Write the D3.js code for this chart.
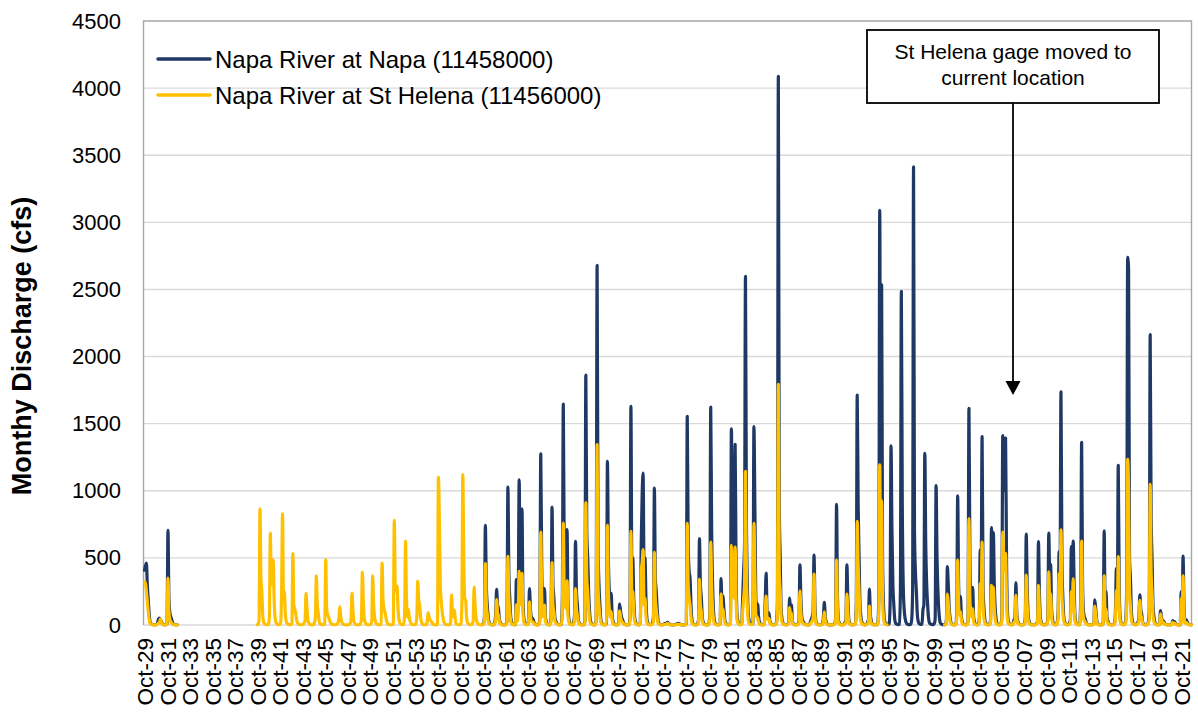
<!DOCTYPE html>
<html>
<head>
<meta charset="utf-8">
<script src="https://cdn.jsdelivr.net/npm/d3@7/dist/d3.min.js"></script>
<style>
  body { margin: 0; background: #fff; }
  svg text { font-family: "Liberation Sans", Arial, sans-serif; fill: #000; }
</style>
</head>
<body>
<svg id="chart" width="1198" height="713"></svg>
<script>
// monthly discharge by water year (Oct..Sep)
const firstWaterYear = 1930

const napaMonthly = [
  [408, 440, 462, 300, 185, 80, 20, 10, 5, 3, 2, 2],        // 1930
  [3, 5, 20, 45, 52, 40, 25, 10, 5, 3, 2, 2],
  [10, 705, 200, 90, 60, 40, 15, 8, 4, 3, 2, 2],
  null, null, null, null, null, null, null,                   // 1933-1939
  null, null, null, null, null, null, null, null, null, null, // 1940-1949
  null, null, null, null, null, null, null, null, null, null, // 1950-1959
  [5, 10, 60, 742, 300, 150, 60, 20, 8, 4, 3, 2],             // 1960
  [3, 20, 80, 265, 150, 120, 40, 15, 6, 3, 2, 2],
  [2, 5, 30, 1027, 400, 200, 60, 20, 8, 4, 3, 2],
  [339, 80, 200, 1081, 400, 300, 866, 200, 50, 15, 8, 5],
  [5, 40, 272, 120, 60, 50, 40, 15, 6, 3, 2, 2],
  [5, 60, 1275, 450, 150, 120, 272, 60, 20, 8, 4, 3],
  [3, 60, 879, 300, 200, 60, 30, 12, 6, 3, 2, 2],
  [5, 200, 1646, 500, 300, 250, 710, 150, 40, 12, 6, 4],
  [3, 20, 80, 624, 250, 150, 40, 15, 6, 3, 2, 2],
  [3, 30, 1861, 700, 500, 250, 100, 30, 12, 5, 3, 2],
  [3, 40, 2680, 600, 300, 150, 40, 15, 6, 3, 2, 2],           // 1970
  [10, 1220, 500, 250, 150, 235, 80, 25, 10, 5, 3, 2],
  [3, 20, 156, 100, 60, 40, 20, 8, 4, 2, 2, 1],
  [5, 60, 1629, 400, 500, 200, 60, 20, 8, 4, 3, 2],
  [20, 619, 978, 1131, 400, 500, 200, 50, 15, 6, 4, 3],
  [5, 15, 60, 1020, 350, 250, 120, 30, 10, 5, 3, 2],
  [3, 5, 10, 10, 15, 20, 12, 6, 3, 2, 1, 1],
  [2, 3, 5, 8, 10, 12, 8, 4, 2, 1, 1, 1],
  [3, 10, 1555, 600, 400, 350, 150, 40, 12, 5, 3, 2],
  [3, 10, 40, 643, 300, 200, 60, 20, 8, 4, 2, 2],
  [3, 10, 80, 1623, 700, 300, 100, 30, 10, 5, 3, 2],          // 1980
  [3, 8, 346, 150, 216, 120, 40, 15, 6, 3, 2, 2],
  [20, 1462, 800, 700, 400, 1345, 400, 80, 25, 10, 5, 3],
  [10, 200, 400, 600, 2597, 800, 300, 80, 30, 12, 6, 4],
  [10, 1478, 900, 200, 150, 155, 60, 20, 8, 4, 3, 2],
  [5, 170, 387, 100, 80, 90, 30, 10, 5, 3, 2, 2],
  [5, 20, 150, 4088, 900, 500, 120, 40, 15, 6, 4, 3],
  [3, 8, 20, 201, 120, 150, 30, 10, 5, 3, 2, 2],
  [10, 30, 448, 200, 60, 30, 20, 8, 4, 2, 2, 1],
  [3, 20, 40, 60, 100, 520, 150, 30, 10, 5, 3, 2],
  [3, 5, 8, 60, 169, 60, 20, 8, 4, 2, 1, 1],                  // 1990
  [2, 3, 5, 10, 50, 899, 200, 40, 15, 6, 3, 2],
  [3, 5, 20, 40, 449, 200, 50, 15, 6, 3, 2, 2],
  [5, 10, 150, 1713, 900, 500, 150, 60, 20, 8, 4, 3],
  [3, 5, 20, 40, 267, 80, 30, 10, 5, 3, 2, 2],
  [3, 20, 200, 3090, 600, 2534, 500, 150, 40, 15, 8, 5],
  [3, 10, 150, 1334, 700, 300, 150, 40, 12, 6, 4, 3],
  [5, 250, 2486, 900, 300, 120, 50, 20, 8, 4, 3, 2],
  [5, 40, 250, 3413, 700, 400, 250, 80, 25, 10, 6, 4],
  [5, 112, 150, 1278, 600, 300, 150, 50, 15, 8, 5, 3],
  [4, 10, 40, 1039, 500, 250, 100, 30, 10, 5, 3, 2],          // 2000
  [3, 5, 40, 435, 300, 120, 50, 15, 6, 3, 2, 2],
  [5, 100, 963, 300, 150, 211, 60, 20, 8, 4, 3, 2],
  [5, 30, 1615, 500, 200, 150, 281, 60, 20, 8, 4, 3],
  [5, 40, 560, 400, 1404, 300, 120, 40, 12, 6, 4, 3],
  [5, 40, 725, 300, 688, 300, 120, 40, 12, 6, 4, 3],
  [5, 60, 1411, 1100, 1000, 1393, 500, 100, 25, 10, 6, 4],
  [3, 10, 40, 60, 316, 80, 30, 10, 5, 3, 2, 2],
  [3, 8, 60, 677, 300, 80, 30, 10, 5, 3, 2, 2],
  [2, 4, 10, 30, 622, 250, 60, 20, 6, 3, 2, 2],
  [5, 10, 60, 684, 400, 451, 120, 40, 12, 5, 3, 2],           // 2010
  [20, 100, 546, 350, 1737, 500, 200, 60, 20, 8, 5, 3],
  [5, 15, 40, 584, 200, 626, 300, 60, 15, 6, 4, 3],
  [5, 200, 1361, 300, 100, 60, 40, 15, 6, 3, 2, 2],
  [2, 3, 5, 10, 188, 120, 40, 10, 5, 2, 2, 1],
  [3, 20, 702, 150, 250, 60, 30, 10, 5, 3, 2, 2],
  [3, 10, 100, 421, 200, 1190, 300, 60, 15, 6, 4, 3],
  [10, 40, 300, 2739, 2651, 500, 346, 100, 30, 12, 6, 4],
  [3, 10, 20, 60, 225, 120, 80, 20, 8, 4, 2, 2],
  [5, 20, 100, 2163, 800, 500, 150, 60, 20, 8, 5, 3],
  [3, 5, 108, 60, 20, 30, 20, 8, 4, 2, 2, 1],                 // 2020
  [2, 3, 5, 33, 20, 25, 10, 5, 3, 2, 1, 1],
  [251, 40, 514, 150, 30, 40, 30, 15, 6, 3, 2, 2]
]

const stHelenaMonthly = [
  [322, 310, 250, 175, 100, 40, 12, 6, 3, 2, 1, 1],           // 1930
  [1, 2, 8, 15, 20, 45, 15, 5, 2, 1, 1, 1],
  [5, 349, 100, 40, 25, 15, 6, 3, 2, 1, 1, 1],
  null, null, null, null, null, null, null,                   // 1933-1939
  [3, 4, 40, 866, 350, 250, 60, 20, 8, 4, 2, 2],              // 1940
  [3, 60, 685, 300, 350, 483, 200, 60, 20, 8, 4, 3],
  [2, 20, 250, 829, 180, 247, 80, 25, 10, 5, 3, 2],
  [2, 10, 532, 150, 120, 90, 40, 15, 6, 3, 2, 2],
  [2, 5, 15, 30, 235, 120, 40, 15, 6, 3, 2, 2],
  [2, 20, 60, 367, 150, 90, 30, 12, 5, 3, 2, 2],
  [5, 487, 120, 80, 60, 40, 20, 10, 5, 3, 2, 2],
  [2, 5, 15, 50, 137, 60, 25, 10, 4, 2, 2, 1],
  [1, 2, 5, 10, 50, 237, 110, 30, 10, 4, 2, 2],
  [2, 3, 10, 40, 395, 180, 50, 20, 8, 3, 2, 2],
  [2, 5, 30, 367, 150, 60, 25, 10, 5, 3, 2, 2],               // 1950
  [5, 462, 187, 120, 100, 60, 25, 10, 5, 3, 2, 2],
  [3, 10, 780, 300, 250, 290, 120, 40, 15, 6, 3, 2],
  [3, 80, 625, 200, 60, 117, 60, 25, 10, 4, 2, 2],
  [2, 10, 60, 325, 187, 150, 60, 20, 8, 3, 2, 2],
  [2, 20, 92, 60, 40, 30, 20, 8, 4, 2, 1, 1],
  [10, 1100, 787, 300, 180, 100, 50, 20, 8, 4, 2, 2],
  [2, 3, 20, 225, 80, 60, 112, 40, 10, 4, 2, 2],
  [3, 10, 150, 1120, 487, 200, 180, 60, 20, 8, 4, 3],
  [2, 4, 30, 282, 150, 60, 25, 10, 4, 2, 1, 1],
  [2, 4, 30, 458, 180, 80, 30, 10, 4, 2, 1, 1],               // 1960
  [1, 10, 40, 190, 90, 70, 20, 8, 3, 1, 1, 1],
  [1, 2, 15, 512, 200, 100, 30, 10, 4, 2, 1, 1],
  [150, 30, 100, 400, 200, 150, 384, 100, 25, 8, 4, 2],
  [2, 20, 173, 70, 30, 25, 20, 8, 3, 1, 1, 1],
  [2, 30, 693, 220, 80, 60, 148, 30, 10, 4, 2, 1],
  [1, 30, 465, 150, 100, 30, 15, 6, 3, 1, 1, 1],
  [2, 100, 760, 250, 150, 120, 329, 70, 20, 6, 3, 2],
  [1, 8, 40, 272, 120, 70, 20, 6, 3, 1, 1, 1],
  [1, 15, 911, 350, 250, 120, 40, 12, 5, 2, 1, 1],
  [1, 20, 1344, 300, 150, 70, 20, 8, 3, 1, 1, 1],             // 1970
  [3, 742, 250, 120, 60, 100, 40, 10, 4, 2, 1, 1],
  [1, 10, 106, 60, 30, 20, 10, 4, 2, 1, 1, 1],
  [2, 30, 698, 200, 250, 100, 30, 10, 4, 2, 1, 1],
  [10, 420, 464, 562, 150, 200, 80, 20, 6, 3, 2, 1],
  [2, 6, 30, 541, 200, 120, 50, 12, 4, 2, 1, 1],
  [1, 2, 4, 5, 8, 12, 8, 3, 1, 1, 1, 1],
  [1, 1, 2, 3, 4, 5, 4, 2, 1, 1, 1, 1],
  [1, 5, 758, 300, 200, 150, 60, 15, 5, 2, 1, 1],
  [1, 4, 20, 340, 150, 100, 30, 8, 3, 1, 1, 1],
  [1, 4, 40, 618, 300, 120, 40, 10, 4, 2, 1, 1],              // 1980
  [1, 3, 232, 80, 120, 60, 20, 6, 3, 1, 1, 1],
  [10, 594, 350, 300, 200, 581, 200, 40, 12, 5, 2, 1],
  [4, 100, 200, 300, 1144, 400, 150, 30, 10, 5, 2, 2],
  [5, 758, 400, 80, 60, 50, 20, 6, 3, 1, 1, 1],
  [2, 90, 216, 50, 40, 50, 15, 5, 2, 1, 1, 1],
  [2, 10, 80, 1793, 400, 250, 60, 20, 6, 3, 2, 1],
  [1, 3, 10, 130, 70, 90, 15, 5, 2, 1, 1, 1],
  [4, 15, 254, 100, 30, 15, 10, 4, 2, 1, 1, 1],
  [1, 10, 20, 30, 50, 379, 80, 15, 5, 2, 1, 1],
  [1, 2, 4, 30, 98, 30, 10, 4, 2, 1, 1, 1],                   // 1990
  [1, 1, 2, 5, 25, 483, 100, 20, 6, 3, 1, 1],
  [1, 2, 10, 20, 230, 100, 25, 6, 3, 1, 1, 1],
  [2, 4, 80, 772, 450, 250, 70, 25, 8, 3, 2, 1],
  [1, 2, 10, 20, 140, 40, 15, 5, 2, 1, 1, 1],
  [1, 10, 100, 1194, 250, 927, 200, 60, 15, 6, 3, 2],
  null, null, null, null, null,                               // 1996-2000
  [1, 2, 20, 230, 160, 70, 25, 8, 3, 1, 1, 1],                // 2001
  [2, 50, 483, 150, 80, 100, 30, 10, 4, 2, 1, 1],
  [2, 15, 792, 200, 80, 60, 120, 25, 8, 3, 1, 1],
  [2, 20, 309, 200, 618, 150, 50, 15, 5, 2, 1, 1],
  [2, 20, 295, 150, 280, 120, 40, 12, 5, 2, 1, 1],
  [2, 30, 692, 500, 400, 534, 200, 40, 10, 4, 2, 1],
  [1, 5, 20, 30, 220, 50, 15, 5, 2, 1, 1, 1],
  [1, 4, 30, 371, 150, 40, 15, 5, 2, 1, 1, 1],
  [1, 2, 5, 15, 296, 120, 30, 8, 3, 1, 1, 1],
  [2, 5, 30, 396, 200, 233, 60, 15, 5, 2, 1, 1],              // 2010
  [10, 60, 383, 250, 709, 250, 100, 30, 10, 4, 2, 1],
  [2, 6, 20, 250, 100, 346, 150, 30, 8, 3, 2, 1],
  [2, 100, 626, 150, 50, 30, 20, 6, 3, 1, 1, 1],
  [1, 1, 2, 5, 140, 80, 20, 5, 2, 1, 1, 1],
  [1, 10, 366, 80, 120, 30, 15, 5, 2, 1, 1, 1],
  [1, 5, 50, 258, 120, 509, 150, 30, 8, 3, 2, 1],
  [3, 20, 150, 1235, 1000, 250, 150, 40, 12, 5, 3, 2],
  [1, 5, 10, 30, 183, 80, 50, 10, 3, 1, 1, 1],
  [2, 10, 50, 1048, 400, 250, 70, 25, 8, 3, 2, 1],
  [1, 2, 83, 40, 10, 20, 10, 4, 2, 1, 1, 1],                  // 2020
  [1, 1, 2, 20, 10, 15, 5, 2, 1, 1, 1, 1],
  [196, 20, 366, 80, 15, 20, 15, 6, 3, 1, 1, 1]
]

const xTickLabels = ['Oct-29', 'Oct-31', 'Oct-33', 'Oct-35', 'Oct-37', 'Oct-39', 'Oct-41', 'Oct-43',
  'Oct-45', 'Oct-47', 'Oct-49', 'Oct-51', 'Oct-53', 'Oct-55', 'Oct-57', 'Oct-59', 'Oct-61', 'Oct-63',
  'Oct-65', 'Oct-67', 'Oct-69', 'Oct-71', 'Oct-73', 'Oct-75', 'Oct-77', 'Oct-79', 'Oct-81', 'Oct-83',
  'Oct-85', 'Oct-87', 'Oct-89', 'Oct-91', 'Oct-93', 'Oct-95', 'Oct-97', 'Oct-99', 'Oct-01', 'Oct-03',
  'Oct-05', 'Oct-07', 'Oct-09', 'Oct-11', 'Oct-13', 'Oct-15', 'Oct-17', 'Oct-19', 'Oct-21']

const yTicks = [0, 500, 1000, 1500, 2000, 2500, 3000, 3500, 4000, 4500]

const seriesInfo = [
  {name: 'Napa River at Napa (11458000)', values: napaMonthly, color: '#1F3864'},
  {name: 'Napa River at St Helena (11456000)', values: stHelenaMonthly, color: '#FFC000'}
]

const noteLines = ['St Helena gage moved to', 'current location']

// flatten water-year rows into month points, index 0 = Oct 1929
function toPoints (rows) {
  let pts = []
  rows.forEach((row, y) => {
    for (let m = 0; m < 12; m++) {
      pts.push({i: y * 12 + m, v: row ? row[m] : null})
    }
  })
  return pts
}

const svg = d3.select('#chart')
const nMonths = napaMonthly.length * 12

const x = d3.scaleLinear().domain([0, nMonths - 1]).range([144.5, 1191.5])
const y = d3.scaleLinear().domain([0, 4500]).range([625, 21])

// gridlines
svg.append('g')
  .selectAll('line')
  .data(yTicks.slice(0, -1))
  .enter()
  .append('line')
  .attr('x1', 143.5)
  .attr('x2', 1191.5)
  .attr('y1', d => y(d))
  .attr('y2', d => y(d))
  .attr('stroke', '#d9d9d9')
  .attr('stroke-width', 1.4)

// plot frame (top, left, right)
svg.append('path')
  .attr('d', `M143.5,${y(0)}V${y(4500)}H1191.5V${y(0)}`)
  .attr('fill', 'none')
  .attr('stroke', '#a6a6a6')
  .attr('stroke-width', 1.4)

// y axis labels
let yAxis = svg.append('g')
  .attr('transform', 'translate(143,0)')
  .call(d3.axisLeft(y).tickValues(yTicks).tickFormat(d3.format('d')).tickSize(0).tickPadding(22))
yAxis.select('.domain').remove()
yAxis.selectAll('text')
  .style('font-size', '22px')
  .style('font-family', '"Liberation Sans", Arial, sans-serif')

// x axis labels, every second October
let tickIdx = xTickLabels.map((d, i) => i * 24)
let xAxis = svg.append('g')
  .attr('transform', `translate(0,${y(0)})`)
  .call(d3.axisBottom(x).tickValues(tickIdx).tickFormat((d, i) => xTickLabels[i]).tickSize(0))
xAxis.select('.domain').remove()
xAxis.selectAll('text')
  .attr('transform', 'rotate(-90)')
  .attr('x', -13)
  .attr('y', 0)
  .attr('dy', '0.36em')
  .style('text-anchor', 'end')
  .style('font-size', '22.5px')
  .style('font-family', '"Liberation Sans", Arial, sans-serif')

// y title
svg.append('text')
  .attr('transform', 'translate(31,346) rotate(-90)')
  .attr('text-anchor', 'middle')
  .attr('font-weight', 'bold')
  .style('font-size', '27px')
  .text('Monthy Discharge (cfs)')

// series lines
let line = d3.line()
  .defined(d => d.v != null)
  .x(d => x(d.i))
  .y(d => y(d.v))
  .curve(d3.curveMonotoneX)

svg.selectAll('path.series')
  .data(seriesInfo)
  .enter()
  .append('path')
  .attr('class', 'series')
  .attr('d', d => line(toPoints(d.values)))
  .attr('fill', 'none')
  .attr('stroke', d => d.color)
  .attr('stroke-width', 3.2)
  .attr('stroke-linejoin', 'round')
  .attr('stroke-linecap', 'round')

// legend
let legend = svg.selectAll('g.legend')
  .data(seriesInfo)
  .enter()
  .append('g')
  .attr('class', 'legend')
  .attr('transform', (d, i) => `translate(158,${59 + 36 * i})`)

legend.append('line')
  .attr('x1', 0)
  .attr('x2', 52)
  .attr('stroke', d => d.color)
  .attr('stroke-width', 3.5)
  .attr('stroke-linecap', 'round')

legend.append('text')
  .attr('x', 57)
  .attr('dy', '0.36em')
  .style('font-size', '24px')
  .text(d => d.name)

// annotation box + arrow
let note = svg.append('g')
note.append('rect')
  .attr('x', 867)
  .attr('y', 30)
  .attr('width', 292)
  .attr('height', 73)
  .attr('fill', '#fff')
  .attr('stroke', '#000')
  .attr('stroke-width', 1.8)

note.selectAll('text')
  .data(noteLines)
  .enter()
  .append('text')
  .attr('x', 1013)
  .attr('y', (d, i) => 59 + 26 * i)
  .attr('text-anchor', 'middle')
  .style('font-size', '21px')
  .text(d => d)

note.append('line')
  .attr('x1', 1013)
  .attr('x2', 1013)
  .attr('y1', 103)
  .attr('y2', 383)
  .attr('stroke', '#000')
  .attr('stroke-width', 1.8)

note.append('path')
  .attr('d', 'M1005.5,381L1020.5,381L1013,395Z')
  .attr('fill', '#000')
</script>
</body>
</html>
